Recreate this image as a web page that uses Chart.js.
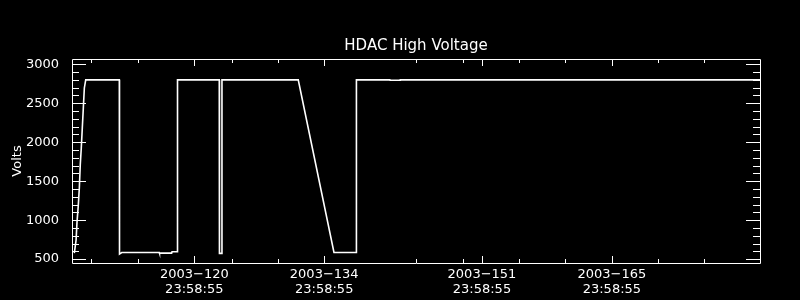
<!DOCTYPE html>
<html>
<head>
<meta charset="utf-8">
<title>HDAC High Voltage</title>
<script src="https://cdn.jsdelivr.net/npm/chart.js@4/dist/chart.umd.min.js"></script>
<style>
  html, body { margin: 0; padding: 0; background: #000; }
  #wrap { width: 800px; height: 300px; }
</style>
</head>
<body>
<div id="wrap"><canvas id="hvChart" width="800" height="300"></canvas></div>
<script>
// dia del año (fraccional) y voltaje
const dias = [108.07, 108.26, 108.36, 108.50, 108.61, 108.71, 108.82, 108.93, 109.04, 109.15, 109.30,
  112.92, 112.94, 113.18, 117.23, 117.25, 118.56, 118.60, 119.17, 119.19,
  123.69, 123.71, 123.96, 123.98, 132.20, 136.05, 138.45, 138.47,
  142.08, 142.10, 143.17, 143.20, 181.96];
const voltios = [577, 744, 975, 1193, 1412, 1707, 1925, 2182, 2439, 2696, 2800,
  2800, 565, 585, 585, 577, 577, 594, 594, 2800,
  2800, 573, 573, 2800, 2800, 585, 585, 2800,
  2800, 2795, 2795, 2800, 2800];

// ejes
const xMin = 107.82, xMax = 181.96;
const yMin = 450, yMax = 3068;
const xTicks = [120.999, 134.999, 151.999, 165.999];
const xTickLabels = [['2003\u2212120', '23:58:55'], ['2003\u2212134', '23:58:55'],
  ['2003\u2212151', '23:58:55'], ['2003\u2212165', '23:58:55']];
const xMinorTicks = [109.87, 114.93, 125.06, 130.02, 144.89, 149.95, 155.98, 160.94, 170.96, 175.92];
const yTicks = [500, 1000, 1500, 2000, 2500, 3000];
const yMinorStep = 100;

const FUENTE = 'DejaVu Sans, sans-serif';

// marco y marcas de los ejes al estilo IDL (hacia adentro)
const marcoEjes = {
  id: 'marcoEjes',
  afterDatasetsDraw(chart) {
    const { ctx, chartArea: a, scales: { x, y } } = chart;
    ctx.save();
    ctx.strokeStyle = '#fff';
    ctx.lineWidth = 1;
    ctx.beginPath();
    ctx.rect(a.left + 0.5, a.top + 0.5, a.right - a.left, a.bottom - a.top);

    const marcaX = (v, largo) => {
      const px = Math.round(x.getPixelForValue(v)) + 0.5;
      ctx.moveTo(px, a.bottom); ctx.lineTo(px, a.bottom - largo);
      ctx.moveTo(px, a.top); ctx.lineTo(px, a.top + largo);
    };
    const marcaY = (v, largo) => {
      const py = Math.round(y.getPixelForValue(v)) + 0.5;
      ctx.moveTo(a.left, py); ctx.lineTo(a.left + largo, py);
      ctx.moveTo(a.right, py); ctx.lineTo(a.right - largo, py);
    };

    xTicks.forEach(v => marcaX(v, 7));
    xMinorTicks.forEach(v => marcaX(v, 4));
    for (let v = yTicks[0]; v <= yTicks[yTicks.length - 1]; v += yMinorStep) {
      marcaY(v, yTicks.includes(v) ? 14 : 7);
    }
    ctx.stroke();
    ctx.restore();
  }
};

document.addEventListener('DOMContentLoaded', function() {
  const ctx = document.getElementById('hvChart').getContext('2d');
  new Chart(ctx, {
    type: 'scatter',
    data: {
      datasets: [{
        label: 'HDAC HV',
        data: dias.map((d, i) => ({ x: d, y: voltios[i] })),
        showLine: true,
        borderColor: '#fff',
        borderWidth: 1.6,
        pointRadius: 0,
        tension: 0
      }]
    },
    options: {
      responsive: false,
      animation: false,
      layout: { padding: { left: 0, right: 40, top: 0, bottom: 0 } },
      plugins: {
        legend: { display: false },
        tooltip: { enabled: false },
        title: {
          display: true,
          text: 'HDAC High Voltage',
          color: '#fff',
          fullSize: false,
          font: { family: FUENTE, size: 15, weight: 'normal', lineHeight: 1.2 },
          padding: { top: 37, bottom: 4 }
        }
      },
      scales: {
        x: {
          type: 'linear',
          min: xMin,
          max: xMax,
          grid: { display: false },
          border: { display: false },
          afterBuildTicks: scale => { scale.ticks = xTicks.map(v => ({ value: v })); },
          afterFit: scale => { scale.height = 37; },
          ticks: {
            color: '#fff',
            padding: -4,
            maxRotation: 0,
            autoSkip: false,
            font: { family: FUENTE, size: 13, lineHeight: 15 / 13 },
            callback: (value) => {
              const i = xTicks.indexOf(value);
              return i >= 0 ? xTickLabels[i] : '';
            }
          }
        },
        y: {
          type: 'linear',
          min: yMin,
          max: yMax,
          grid: { display: false },
          border: { display: false },
          afterBuildTicks: scale => { scale.ticks = yTicks.map(v => ({ value: v })); },
          afterFit: scale => { scale.width = 72; },
          title: {
            display: true,
            text: 'Volts',
            color: '#fff',
            font: { family: FUENTE, size: 13 },
            padding: { top: 10, bottom: 0 }
          },
          ticks: {
            color: '#fff',
            padding: 5,
            font: { family: FUENTE, size: 13 },
            callback: value => String(value)
          }
        }
      }
    },
    plugins: [marcoEjes]
  });
});
</script>
</body>
</html>
